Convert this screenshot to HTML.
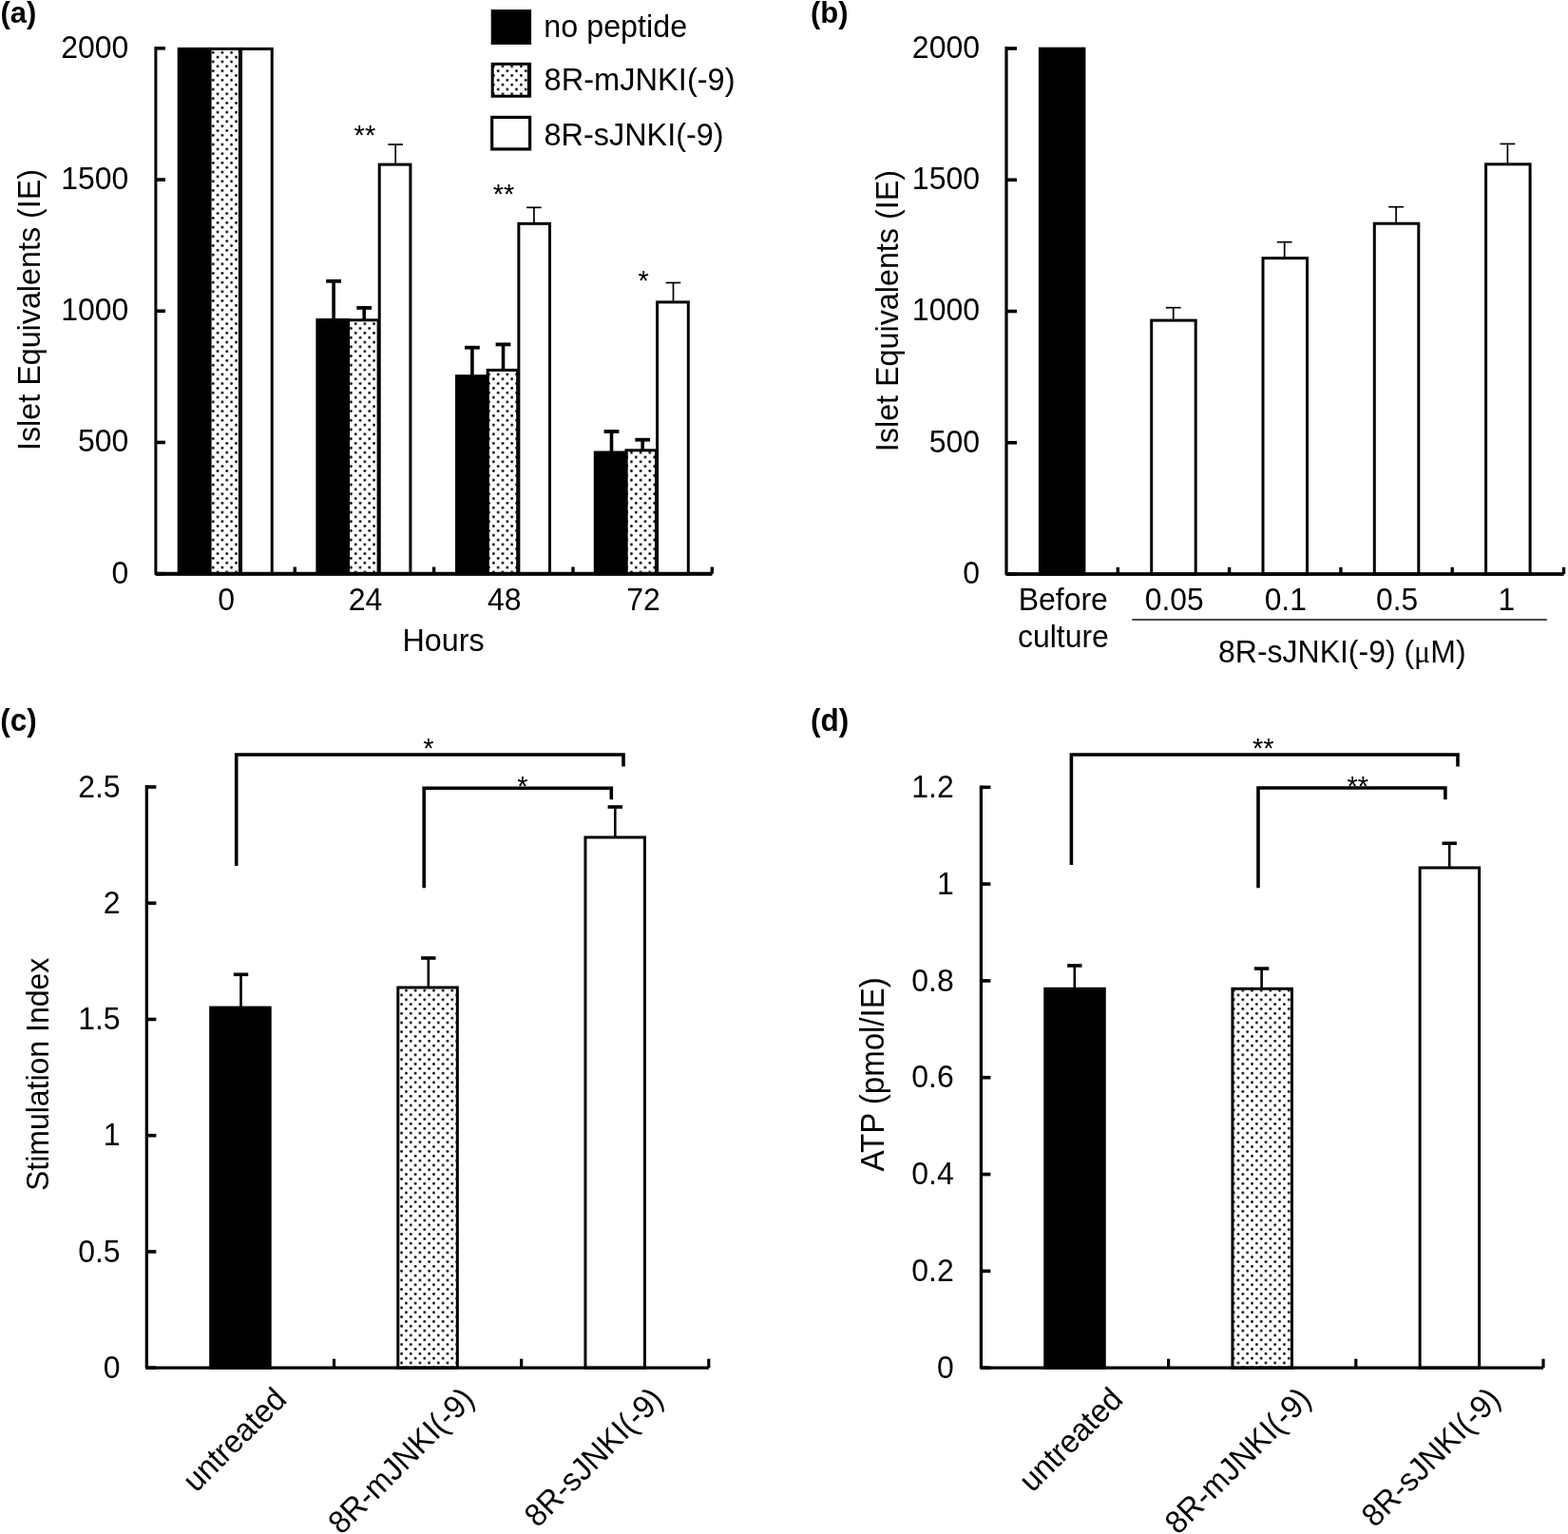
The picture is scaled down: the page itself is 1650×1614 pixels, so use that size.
<!DOCTYPE html>
<html><head><meta charset="utf-8"><title>Figure</title><style>html,body{margin:0;padding:0;background:#fff;overflow:hidden;}svg{display:block;}</style></head><body>
<svg width="1650" height="1614" viewBox="0 0 1650 1614" font-family="'Liberation Sans', Arial, sans-serif" fill="#000">
<rect width="1650" height="1614" fill="#fff"/>
<defs><pattern id="st" patternUnits="userSpaceOnUse" x="221.831" y="62.581" width="9.675" height="9.675"><circle cx="2.4188" cy="2.4188" r="1.4" fill="#000"/><circle cx="7.2563" cy="7.2563" r="1.4" fill="#000"/></pattern></defs>
<rect x="188.19" y="51.4" width="32.67" height="552.3" fill="#000" stroke="#000" stroke-width="3"/>
<rect x="220.87" y="51.4" width="32.67" height="552.3" fill="url(#st)" stroke="#000" stroke-width="3"/>
<line x1="251.54" y1="51.4" x2="251.54" y2="603.7" stroke="#000" stroke-width="1.3" stroke-linecap="butt"/>
<rect x="253.53" y="51.4" width="32.67" height="552.3" fill="#fff" stroke="#000" stroke-width="3"/>
<rect x="333.89" y="336.5" width="32.67" height="267.2" fill="#000" stroke="#000" stroke-width="3"/>
<rect x="366.56" y="336.8" width="32.67" height="266.9" fill="url(#st)" stroke="#000" stroke-width="3"/>
<line x1="397.24" y1="336.8" x2="397.24" y2="603.7" stroke="#000" stroke-width="1.3" stroke-linecap="butt"/>
<rect x="399.24" y="173.1" width="32.67" height="430.6" fill="#fff" stroke="#000" stroke-width="3"/>
<rect x="480.5" y="395.7" width="32.67" height="208" fill="#000" stroke="#000" stroke-width="3"/>
<rect x="513.16" y="389.4" width="32.67" height="214.3" fill="url(#st)" stroke="#000" stroke-width="3"/>
<line x1="543.83" y1="389.4" x2="543.83" y2="603.7" stroke="#000" stroke-width="1.3" stroke-linecap="butt"/>
<rect x="545.84" y="235.3" width="32.67" height="368.4" fill="#fff" stroke="#000" stroke-width="3"/>
<rect x="626.29" y="476" width="32.67" height="127.7" fill="#000" stroke="#000" stroke-width="3"/>
<rect x="658.96" y="473.8" width="32.67" height="129.9" fill="url(#st)" stroke="#000" stroke-width="3"/>
<line x1="689.63" y1="473.8" x2="689.63" y2="603.7" stroke="#000" stroke-width="1.3" stroke-linecap="butt"/>
<rect x="691.63" y="317.9" width="32.67" height="285.8" fill="#fff" stroke="#000" stroke-width="3"/>
<line x1="351.1" y1="336.5" x2="351.1" y2="295.8" stroke="#000" stroke-width="3.6" stroke-linecap="butt"/>
<line x1="343.2" y1="295.8" x2="359" y2="295.8" stroke="#000" stroke-width="3.8" stroke-linecap="butt"/>
<line x1="383.2" y1="336.8" x2="383.2" y2="323.9" stroke="#000" stroke-width="3.6" stroke-linecap="butt"/>
<line x1="375.3" y1="323.9" x2="391.1" y2="323.9" stroke="#000" stroke-width="3.8" stroke-linecap="butt"/>
<line x1="416.2" y1="173.1" x2="416.2" y2="152" stroke="#000" stroke-width="1.7" stroke-linecap="butt"/>
<line x1="408.4" y1="152" x2="424" y2="152" stroke="#000" stroke-width="1.7" stroke-linecap="butt"/>
<line x1="496.9" y1="395.7" x2="496.9" y2="365.7" stroke="#000" stroke-width="3.6" stroke-linecap="butt"/>
<line x1="489" y1="365.7" x2="504.8" y2="365.7" stroke="#000" stroke-width="3.8" stroke-linecap="butt"/>
<line x1="529.5" y1="389.4" x2="529.5" y2="362.4" stroke="#000" stroke-width="3.6" stroke-linecap="butt"/>
<line x1="521.6" y1="362.4" x2="537.4" y2="362.4" stroke="#000" stroke-width="3.8" stroke-linecap="butt"/>
<line x1="561.9" y1="235.3" x2="561.9" y2="218.3" stroke="#000" stroke-width="1.7" stroke-linecap="butt"/>
<line x1="554.1" y1="218.3" x2="569.7" y2="218.3" stroke="#000" stroke-width="1.7" stroke-linecap="butt"/>
<line x1="643.5" y1="476" x2="643.5" y2="454" stroke="#000" stroke-width="3.6" stroke-linecap="butt"/>
<line x1="635.6" y1="454" x2="651.4" y2="454" stroke="#000" stroke-width="3.8" stroke-linecap="butt"/>
<line x1="676.2" y1="473.8" x2="676.2" y2="462.7" stroke="#000" stroke-width="3.6" stroke-linecap="butt"/>
<line x1="668.3" y1="462.7" x2="684.1" y2="462.7" stroke="#000" stroke-width="3.8" stroke-linecap="butt"/>
<line x1="708.5" y1="317.9" x2="708.5" y2="297.5" stroke="#000" stroke-width="1.7" stroke-linecap="butt"/>
<line x1="700.7" y1="297.5" x2="716.3" y2="297.5" stroke="#000" stroke-width="1.7" stroke-linecap="butt"/>
<path d="M163.9,48.9 L163.9,603.7 L749.3,603.7" fill="none" stroke="#000" stroke-width="3" stroke-linejoin="round" stroke-linecap="butt"/>
<line x1="163.9" y1="603.7" x2="749.3" y2="603.7" stroke="#000" stroke-width="4" stroke-linecap="butt"/>
<line x1="163.9" y1="603.7" x2="174" y2="603.7" stroke="#000" stroke-width="3.6" stroke-linecap="butt"/>
<line x1="163.9" y1="465.48" x2="174" y2="465.48" stroke="#000" stroke-width="3.6" stroke-linecap="butt"/>
<line x1="163.9" y1="327.25" x2="174" y2="327.25" stroke="#000" stroke-width="3.6" stroke-linecap="butt"/>
<line x1="163.9" y1="189.02" x2="174" y2="189.02" stroke="#000" stroke-width="3.6" stroke-linecap="butt"/>
<line x1="163.9" y1="50.8" x2="174" y2="50.8" stroke="#000" stroke-width="3.6" stroke-linecap="butt"/>
<line x1="310.25" y1="596.5" x2="310.25" y2="603.7" stroke="#000" stroke-width="3.4" stroke-linecap="butt"/>
<line x1="456.6" y1="596.5" x2="456.6" y2="603.7" stroke="#000" stroke-width="3.4" stroke-linecap="butt"/>
<line x1="602.95" y1="596.5" x2="602.95" y2="603.7" stroke="#000" stroke-width="3.4" stroke-linecap="butt"/>
<line x1="749.3" y1="596.5" x2="749.3" y2="603.7" stroke="#000" stroke-width="3.4" stroke-linecap="butt"/>
<text font-size="32" text-anchor="end" font-weight="normal" transform="translate(135.4,613.5) scale(1,1.04)">0</text>
<text font-size="32" text-anchor="end" font-weight="normal" transform="translate(135.4,475.28) scale(1,1.04)">500</text>
<text font-size="32" text-anchor="end" font-weight="normal" transform="translate(135.4,337.05) scale(1,1.04)">1000</text>
<text font-size="32" text-anchor="end" font-weight="normal" transform="translate(135.4,198.82) scale(1,1.04)">1500</text>
<text font-size="32" text-anchor="end" font-weight="normal" transform="translate(135.4,60.6) scale(1,1.04)">2000</text>
<text font-size="32" text-anchor="middle" font-weight="normal" transform="translate(238.07,641.8) scale(1,1.04)">0</text>
<text font-size="32" text-anchor="middle" font-weight="normal" transform="translate(384.42,641.8) scale(1,1.04)">24</text>
<text font-size="32" text-anchor="middle" font-weight="normal" transform="translate(530.77,641.8) scale(1,1.04)">48</text>
<text font-size="32" text-anchor="middle" font-weight="normal" transform="translate(677.12,641.8) scale(1,1.04)">72</text>
<text font-size="32.3" text-anchor="middle" font-weight="normal" transform="translate(466.5,684.8) scale(1,1.04)">Hours</text>
<text font-size="32.3" text-anchor="middle" font-weight="normal" transform="translate(41.6,326) rotate(-90) scale(1,1.04)">Islet Equivalents (IE)</text>
<text font-size="29" text-anchor="middle" font-weight="normal" transform="translate(383.9,151.6) scale(1,1.04)">**</text>
<text font-size="29" text-anchor="middle" font-weight="normal" transform="translate(530.1,213.6) scale(1,1.04)">**</text>
<text font-size="29" text-anchor="middle" font-weight="normal" transform="translate(677.1,305.3) scale(1,1.04)">*</text>
<rect x="518.2" y="11.5" width="39.4" height="33.9" fill="#000" stroke="#000" stroke-width="3"/>
<rect x="518.2" y="67.3" width="39.4" height="33.9" fill="url(#st)" stroke="#000" stroke-width="3"/>
<line x1="555.6" y1="67.3" x2="555.6" y2="101.2" stroke="#000" stroke-width="1.3" stroke-linecap="butt"/>
<rect x="517.7" y="123.4" width="39.9" height="33.5" fill="#fff" stroke="#000" stroke-width="3.2"/>
<text font-size="32.3" text-anchor="start" font-weight="normal" transform="translate(572.3,38.8) scale(1,1.04)">no peptide</text>
<text font-size="32.6" text-anchor="start" font-weight="normal" transform="translate(572.6,95.4) scale(1,1.04)">8R-mJNKI(-9)</text>
<text font-size="32.4" text-anchor="start" font-weight="normal" transform="translate(572.6,152.6) scale(1,1.04)">8R-sJNKI(-9)</text>
<text font-size="31" text-anchor="start" font-weight="bold" transform="translate(0.5,24.4) scale(1,1.04)">(a)</text>
<rect x="1094.4" y="51.2" width="46.5" height="552.8" fill="#000" stroke="#000" stroke-width="3"/>
<rect x="1211.7" y="337.1" width="46.5" height="266.9" fill="#fff" stroke="#000" stroke-width="3"/>
<line x1="1234.7" y1="337.1" x2="1234.7" y2="323.7" stroke="#000" stroke-width="1.7" stroke-linecap="butt"/>
<line x1="1226.8" y1="323.7" x2="1242.6" y2="323.7" stroke="#000" stroke-width="1.7" stroke-linecap="butt"/>
<rect x="1329" y="271.6" width="46.5" height="332.4" fill="#fff" stroke="#000" stroke-width="3"/>
<line x1="1351.7" y1="271.6" x2="1351.7" y2="254.7" stroke="#000" stroke-width="1.7" stroke-linecap="butt"/>
<line x1="1343.8" y1="254.7" x2="1359.6" y2="254.7" stroke="#000" stroke-width="1.7" stroke-linecap="butt"/>
<rect x="1446.3" y="235.2" width="46.5" height="368.8" fill="#fff" stroke="#000" stroke-width="3"/>
<line x1="1469.1" y1="235.2" x2="1469.1" y2="217.7" stroke="#000" stroke-width="1.7" stroke-linecap="butt"/>
<line x1="1461.2" y1="217.7" x2="1477" y2="217.7" stroke="#000" stroke-width="1.7" stroke-linecap="butt"/>
<rect x="1563.6" y="172.8" width="46.5" height="431.2" fill="#fff" stroke="#000" stroke-width="3"/>
<line x1="1586.4" y1="172.8" x2="1586.4" y2="151.4" stroke="#000" stroke-width="1.7" stroke-linecap="butt"/>
<line x1="1578.5" y1="151.4" x2="1594.3" y2="151.4" stroke="#000" stroke-width="1.7" stroke-linecap="butt"/>
<path d="M1059,49.1 L1059,604 L1645.5,604" fill="none" stroke="#000" stroke-width="3.2" stroke-linejoin="round" stroke-linecap="butt"/>
<line x1="1059" y1="604" x2="1645.5" y2="604" stroke="#000" stroke-width="3.6" stroke-linecap="butt"/>
<line x1="1059" y1="604" x2="1070" y2="604" stroke="#000" stroke-width="3.6" stroke-linecap="butt"/>
<line x1="1059" y1="465.75" x2="1070" y2="465.75" stroke="#000" stroke-width="3.6" stroke-linecap="butt"/>
<line x1="1059" y1="327.5" x2="1070" y2="327.5" stroke="#000" stroke-width="3.6" stroke-linecap="butt"/>
<line x1="1059" y1="189.25" x2="1070" y2="189.25" stroke="#000" stroke-width="3.6" stroke-linecap="butt"/>
<line x1="1059" y1="51" x2="1070" y2="51" stroke="#000" stroke-width="3.6" stroke-linecap="butt"/>
<line x1="1176.3" y1="596.8" x2="1176.3" y2="604" stroke="#000" stroke-width="3.4" stroke-linecap="butt"/>
<line x1="1293.6" y1="596.8" x2="1293.6" y2="604" stroke="#000" stroke-width="3.4" stroke-linecap="butt"/>
<line x1="1410.9" y1="596.8" x2="1410.9" y2="604" stroke="#000" stroke-width="3.4" stroke-linecap="butt"/>
<line x1="1528.2" y1="596.8" x2="1528.2" y2="604" stroke="#000" stroke-width="3.4" stroke-linecap="butt"/>
<line x1="1645.5" y1="596.8" x2="1645.5" y2="604" stroke="#000" stroke-width="3.4" stroke-linecap="butt"/>
<text font-size="32" text-anchor="end" font-weight="normal" transform="translate(1031,613.8) scale(1,1.04)">0</text>
<text font-size="32" text-anchor="end" font-weight="normal" transform="translate(1031,475.55) scale(1,1.04)">500</text>
<text font-size="32" text-anchor="end" font-weight="normal" transform="translate(1031,337.3) scale(1,1.04)">1000</text>
<text font-size="32" text-anchor="end" font-weight="normal" transform="translate(1031,199.05) scale(1,1.04)">1500</text>
<text font-size="32" text-anchor="end" font-weight="normal" transform="translate(1031,60.8) scale(1,1.04)">2000</text>
<text font-size="32" text-anchor="middle" font-weight="normal" transform="translate(1118.8,641.8) scale(1,1.04)">Before</text>
<text font-size="32" text-anchor="middle" font-weight="normal" transform="translate(1118.9,680.9) scale(1,1.04)">culture</text>
<text font-size="31.8" text-anchor="middle" font-weight="normal" transform="translate(1235.65,641.8) scale(1,1.04)">0.05</text>
<text font-size="31.8" text-anchor="middle" font-weight="normal" transform="translate(1352.75,641.8) scale(1,1.04)">0.1</text>
<text font-size="31.8" text-anchor="middle" font-weight="normal" transform="translate(1470.05,641.8) scale(1,1.04)">0.5</text>
<text font-size="31.8" text-anchor="middle" font-weight="normal" transform="translate(1585.35,641.8) scale(1,1.04)">1</text>
<line x1="1191.3" y1="652" x2="1627.8" y2="652" stroke="#4a4a4a" stroke-width="1.9" stroke-linecap="butt"/>
<text font-size="32" text-anchor="middle" font-weight="normal" transform="translate(1412.3,696.6) scale(1,1.04)">8R-sJNKI(-9) (<tspan font-family="'Liberation Serif', serif">μ</tspan>M)</text>
<text font-size="32.3" text-anchor="middle" font-weight="normal" transform="translate(945.4,327.1) rotate(-90) scale(1,1.04)">Islet Equivalents (IE)</text>
<text font-size="31" text-anchor="start" font-weight="bold" transform="translate(853,24.4) scale(1,1.04)">(b)</text>
<rect x="221.67" y="1060.1" width="62.5" height="379.1" fill="#000" stroke="#000" stroke-width="3"/>
<rect x="418.82" y="1039" width="62.5" height="400.2" fill="url(#st)" stroke="#000" stroke-width="3"/>
<rect x="615.97" y="881" width="62.5" height="558.2" fill="#fff" stroke="#000" stroke-width="3"/>
<line x1="253.5" y1="1060.1" x2="253.5" y2="1025.3" stroke="#000" stroke-width="2.6" stroke-linecap="butt"/>
<line x1="245.8" y1="1025.3" x2="261.2" y2="1025.3" stroke="#000" stroke-width="3.6" stroke-linecap="butt"/>
<line x1="450.8" y1="1039" x2="450.8" y2="1008" stroke="#000" stroke-width="2.6" stroke-linecap="butt"/>
<line x1="443.1" y1="1008" x2="458.5" y2="1008" stroke="#000" stroke-width="3.6" stroke-linecap="butt"/>
<line x1="647.3" y1="881" x2="647.3" y2="849" stroke="#000" stroke-width="2.6" stroke-linecap="butt"/>
<line x1="639.6" y1="849" x2="655" y2="849" stroke="#000" stroke-width="3.6" stroke-linecap="butt"/>
<path d="M154.35,826.1 L154.35,1439.2 L745.8,1439.2" fill="none" stroke="#000" stroke-width="3.3" stroke-linejoin="round" stroke-linecap="butt"/>
<line x1="154.35" y1="1439.2" x2="164.35" y2="1439.2" stroke="#000" stroke-width="3.6" stroke-linecap="butt"/>
<line x1="154.35" y1="1316.96" x2="164.35" y2="1316.96" stroke="#000" stroke-width="3.6" stroke-linecap="butt"/>
<line x1="154.35" y1="1194.72" x2="164.35" y2="1194.72" stroke="#000" stroke-width="3.6" stroke-linecap="butt"/>
<line x1="154.35" y1="1072.48" x2="164.35" y2="1072.48" stroke="#000" stroke-width="3.6" stroke-linecap="butt"/>
<line x1="154.35" y1="950.24" x2="164.35" y2="950.24" stroke="#000" stroke-width="3.6" stroke-linecap="butt"/>
<line x1="154.35" y1="828" x2="164.35" y2="828" stroke="#000" stroke-width="3.6" stroke-linecap="butt"/>
<line x1="351.5" y1="1429.7" x2="351.5" y2="1439.2" stroke="#000" stroke-width="3.2" stroke-linecap="butt"/>
<line x1="548.65" y1="1429.7" x2="548.65" y2="1439.2" stroke="#000" stroke-width="3.2" stroke-linecap="butt"/>
<line x1="745.8" y1="1429.7" x2="745.8" y2="1439.2" stroke="#000" stroke-width="3.2" stroke-linecap="butt"/>
<text font-size="32" text-anchor="end" font-weight="normal" transform="translate(126.6,1449.8) scale(1,1.04)">0</text>
<text font-size="32" text-anchor="end" font-weight="normal" transform="translate(126.6,1327.56) scale(1,1.04)">0.5</text>
<text font-size="32" text-anchor="end" font-weight="normal" transform="translate(126.6,1205.32) scale(1,1.04)">1</text>
<text font-size="32" text-anchor="end" font-weight="normal" transform="translate(126.6,1083.08) scale(1,1.04)">1.5</text>
<text font-size="32" text-anchor="end" font-weight="normal" transform="translate(126.6,960.84) scale(1,1.04)">2</text>
<text font-size="32" text-anchor="end" font-weight="normal" transform="translate(126.6,838.6) scale(1,1.04)">2.5</text>
<path d="M248.7,911 L248.7,794 L656,794 L656,806.4" fill="none" stroke="#000" stroke-width="3.6" stroke-linejoin="miter" stroke-linecap="butt"/>
<path d="M446.2,934.2 L446.2,829.2 L643.3,829.2 L643.3,841.2" fill="none" stroke="#000" stroke-width="3.6" stroke-linejoin="miter" stroke-linecap="butt"/>
<text font-size="29" text-anchor="middle" font-weight="normal" transform="translate(450.8,797) scale(1,1.04)">*</text>
<text font-size="29" text-anchor="middle" font-weight="normal" transform="translate(550,837) scale(1,1.04)">*</text>
<text font-size="32.5" text-anchor="end" font-weight="normal" transform="translate(303.2,1474.2) rotate(-45) scale(1,1.04)">untreated</text>
<text font-size="32.5" text-anchor="end" font-weight="normal" transform="translate(500.8,1474.2) rotate(-45) scale(1,1.04)">8R-mJNKI(-9)</text>
<text font-size="32.5" text-anchor="end" font-weight="normal" transform="translate(699.7,1474.2) rotate(-45) scale(1,1.04)">8R-sJNKI(-9)</text>
<text font-size="32" text-anchor="middle" font-weight="normal" transform="translate(51.4,1130.4) rotate(-90) scale(1,1.04)">Stimulation Index</text>
<text font-size="31.5" text-anchor="start" font-weight="bold" transform="translate(0.3,769.2) scale(1,1.04)">(c)</text>
<rect x="1099.75" y="1040.3" width="62.5" height="398.9" fill="#000" stroke="#000" stroke-width="3"/>
<rect x="1296.95" y="1040.3" width="62.5" height="398.9" fill="url(#st)" stroke="#000" stroke-width="3"/>
<rect x="1494.15" y="913" width="62.5" height="526.2" fill="#fff" stroke="#000" stroke-width="3"/>
<line x1="1130.8" y1="1040.3" x2="1130.8" y2="1016" stroke="#000" stroke-width="2.6" stroke-linecap="butt"/>
<line x1="1123.1" y1="1016" x2="1138.5" y2="1016" stroke="#000" stroke-width="3.6" stroke-linecap="butt"/>
<line x1="1327.6" y1="1040.3" x2="1327.6" y2="1019.1" stroke="#000" stroke-width="2.6" stroke-linecap="butt"/>
<line x1="1319.9" y1="1019.1" x2="1335.3" y2="1019.1" stroke="#000" stroke-width="3.6" stroke-linecap="butt"/>
<line x1="1525.2" y1="913" x2="1525.2" y2="887.3" stroke="#000" stroke-width="2.6" stroke-linecap="butt"/>
<line x1="1517.5" y1="887.3" x2="1532.9" y2="887.3" stroke="#000" stroke-width="3.6" stroke-linecap="butt"/>
<path d="M1032.4,826.4 L1032.4,1439.2 L1624,1439.2" fill="none" stroke="#000" stroke-width="3.3" stroke-linejoin="round" stroke-linecap="butt"/>
<line x1="1032.4" y1="1439.2" x2="1042.4" y2="1439.2" stroke="#000" stroke-width="3.6" stroke-linecap="butt"/>
<line x1="1032.4" y1="1337.38" x2="1042.4" y2="1337.38" stroke="#000" stroke-width="3.6" stroke-linecap="butt"/>
<line x1="1032.4" y1="1235.57" x2="1042.4" y2="1235.57" stroke="#000" stroke-width="3.6" stroke-linecap="butt"/>
<line x1="1032.4" y1="1133.75" x2="1042.4" y2="1133.75" stroke="#000" stroke-width="3.6" stroke-linecap="butt"/>
<line x1="1032.4" y1="1031.93" x2="1042.4" y2="1031.93" stroke="#000" stroke-width="3.6" stroke-linecap="butt"/>
<line x1="1032.4" y1="930.12" x2="1042.4" y2="930.12" stroke="#000" stroke-width="3.6" stroke-linecap="butt"/>
<line x1="1032.4" y1="828.3" x2="1042.4" y2="828.3" stroke="#000" stroke-width="3.6" stroke-linecap="butt"/>
<line x1="1229.6" y1="1429.7" x2="1229.6" y2="1439.2" stroke="#000" stroke-width="3.2" stroke-linecap="butt"/>
<line x1="1426.8" y1="1429.7" x2="1426.8" y2="1439.2" stroke="#000" stroke-width="3.2" stroke-linecap="butt"/>
<line x1="1624" y1="1429.7" x2="1624" y2="1439.2" stroke="#000" stroke-width="3.2" stroke-linecap="butt"/>
<text font-size="32" text-anchor="end" font-weight="normal" transform="translate(1003.8,1449.8) scale(1,1.04)">0</text>
<text font-size="32" text-anchor="end" font-weight="normal" transform="translate(1003.8,1347.98) scale(1,1.04)">0.2</text>
<text font-size="32" text-anchor="end" font-weight="normal" transform="translate(1003.8,1246.17) scale(1,1.04)">0.4</text>
<text font-size="32" text-anchor="end" font-weight="normal" transform="translate(1003.8,1144.35) scale(1,1.04)">0.6</text>
<text font-size="32" text-anchor="end" font-weight="normal" transform="translate(1003.8,1042.53) scale(1,1.04)">0.8</text>
<text font-size="32" text-anchor="end" font-weight="normal" transform="translate(1003.8,940.72) scale(1,1.04)">1</text>
<text font-size="32" text-anchor="end" font-weight="normal" transform="translate(1003.8,838.9) scale(1,1.04)">1.2</text>
<path d="M1127.4,910 L1127.4,794 L1534,794 L1534,806.4" fill="none" stroke="#000" stroke-width="3.6" stroke-linejoin="miter" stroke-linecap="butt"/>
<path d="M1324,934.2 L1324,829 L1520.9,829 L1520.9,841.2" fill="none" stroke="#000" stroke-width="3.6" stroke-linejoin="miter" stroke-linecap="butt"/>
<text font-size="29" text-anchor="middle" font-weight="normal" transform="translate(1329.3,797) scale(1,1.04)">**</text>
<text font-size="29" text-anchor="middle" font-weight="normal" transform="translate(1428.8,837) scale(1,1.04)">**</text>
<text font-size="32.5" text-anchor="end" font-weight="normal" transform="translate(1183.3,1474.2) rotate(-45) scale(1,1.04)">untreated</text>
<text font-size="32.5" text-anchor="end" font-weight="normal" transform="translate(1381.5,1474.2) rotate(-45) scale(1,1.04)">8R-mJNKI(-9)</text>
<text font-size="32.5" text-anchor="end" font-weight="normal" transform="translate(1580.7,1474.2) rotate(-45) scale(1,1.04)">8R-sJNKI(-9)</text>
<text font-size="33" text-anchor="middle" font-weight="normal" transform="translate(930.2,1130.4) rotate(-90) scale(1,1.04)">ATP (pmol/IE)</text>
<text font-size="31.5" text-anchor="start" font-weight="bold" transform="translate(853,769.2) scale(1,1.04)">(d)</text>
</svg>
</body></html>
